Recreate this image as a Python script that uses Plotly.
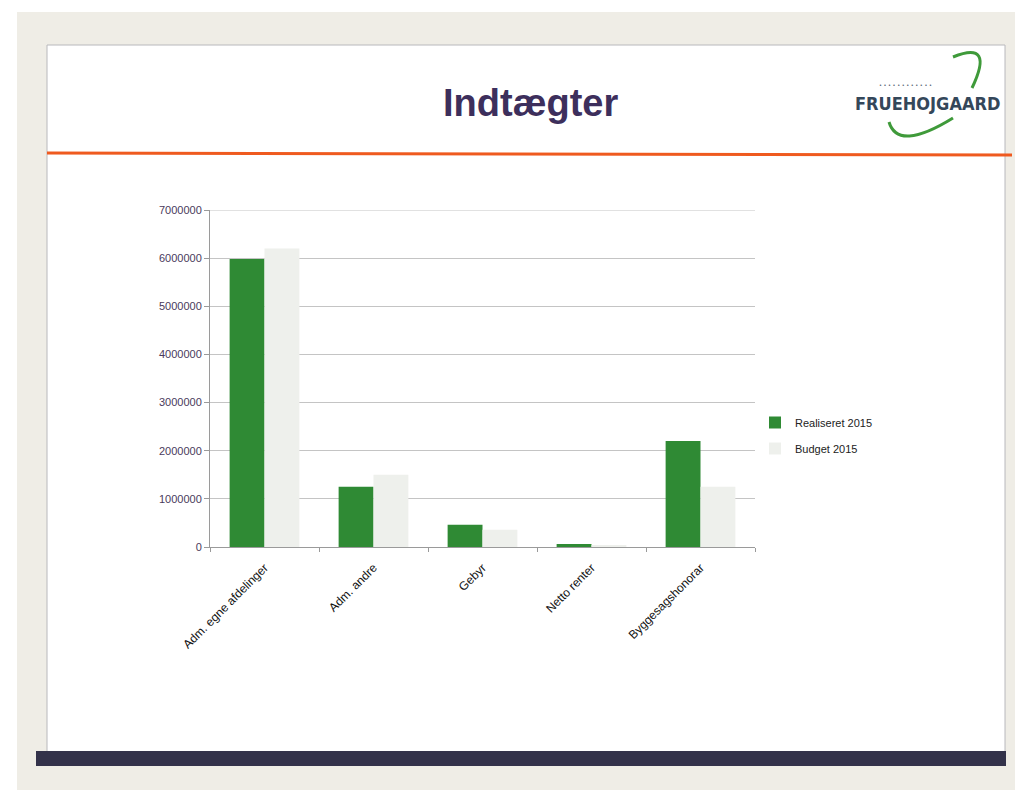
import plotly.graph_objects as go

categories = ["Adm. egne afdelinger", "Adm. andre", "Gebyr", "Netto renter", "Byggesagshonorar"]
realiseret_2015 = [5980000, 1250000, 460000, 60000, 2200000]
budget_2015 = [6200000, 1500000, 360000, 30000, 1250000]
y_ticks = [0, 1000000, 2000000, 3000000, 4000000, 5000000, 6000000, 7000000]

OFF = 8  # page body margin
W, H = 1029 - OFF, 793 - OFF
L, R, T, B = 210 - OFF, 755 - OFF, 210 - OFF, 547 - OFF


def px(x):
    return (x - OFF - L) / (R - L)


def py(y):
    return (B - (y - OFF)) / (B - T)


fig = go.Figure()
fig.add_trace(go.Bar(x=categories, y=realiseret_2015, name="Realiseret 2015", legendgroup="a",
                     marker=dict(color="#2f8a34", line=dict(width=0))))
fig.add_trace(go.Bar(x=categories, y=budget_2015, name="Budget 2015", legendgroup="b",
                     marker=dict(color="#eef0ec", line=dict(width=0))))

shapes = []
shapes.append(dict(type="rect", xref="paper", yref="paper", layer="below",
                   x0=px(17), x1=px(1015), y0=py(790), y1=py(12),
                   fillcolor="#efede6", line=dict(width=0)))
shapes.append(dict(type="rect", xref="paper", yref="paper", layer="below",
                   x0=px(47), x1=px(1005), y0=py(760), y1=py(45),
                   fillcolor="#ffffff", line=dict(color="#b8b8bc", width=1)))
shapes.append(dict(type="line", xref="paper", yref="paper",
                   x0=px(47), x1=px(1012), y0=py(153), y1=py(155),
                   line=dict(color="#ef5a1f", width=3)))
shapes.append(dict(type="rect", xref="paper", yref="paper",
                   x0=px(36), x1=px(1006), y0=py(766), y1=py(751),
                   fillcolor="#33324a", line=dict(width=0)))
# top gridline at 7000000
shapes.append(dict(type="line", xref="paper", yref="y", layer="below",
                   x0=0, x1=1, y0=y_ticks[-1], y1=y_ticks[-1],
                   line=dict(color="#c4c4c4", width=1)))


def P(x, y):
    return f"{px(x):.5f},{py(y):.5f}"


shapes.append(dict(type="path", xref="paper", yref="paper",
                   path=f"M {P(953,57)} Q {P(995,40)} {P(972,88)}",
                   line=dict(color="#3f9a3a", width=3)))
shapes.append(dict(type="path", xref="paper", yref="paper",
                   path=f"M {P(889,122)} Q {P(898,152)} {P(953,118)}",
                   line=dict(color="#3f9a3a", width=3)))

annotations = [
    dict(text="<b>Indtægter</b>", x=px(530), y=py(103), xref="paper", yref="paper",
         showarrow=False, font=dict(family="Liberation Sans, Arial", size=38, color="#3d2f5c"),
         xanchor="center", yanchor="middle"),
    dict(text="<b>FRUEHOJGAARD</b>", x=px(927), y=py(103), xref="paper", yref="paper",
         showarrow=False, font=dict(family="DejaVu Sans Condensed, DejaVu Sans", size=18, color="#34475a"),
         xanchor="center", yanchor="middle"),
    dict(text="• • • • • • • • • • • •", x=px(905), y=py(85), xref="paper", yref="paper",
         showarrow=False, font=dict(family="DejaVu Sans", size=5, color="#34475a"),
         xanchor="center", yanchor="middle"),
]

fig.update_layout(
    width=W, height=H,
    margin=dict(l=L, r=W - R, t=T, b=H - B, pad=0),
    paper_bgcolor="#ffffff", plot_bgcolor="rgba(0,0,0,0)",
    barmode="group", bargap=0.36, bargroupgap=0,
    showlegend=True,
    legend=dict(x=px(755), y=py(408), xanchor="left", yanchor="top",
                font=dict(family="Liberation Sans, Arial", size=11, color="#222222"),
                bgcolor="rgba(0,0,0,0)", itemwidth=30, tracegroupgap=7),
    shapes=shapes, annotations=annotations,
    font=dict(family="Liberation Sans, Arial"),
)
fig.update_yaxes(range=[0, 7000000], tickvals=y_ticks, ticktext=[str(v) for v in y_ticks],
                 showgrid=True, gridcolor="#c4c4c4", gridwidth=1,
                 showline=True, linecolor="#9a9a9a", ticks="outside", ticklen=5, tickcolor="#9a9a9a",
                 tickfont=dict(size=11, color="#4a3a5c"), zeroline=False)
fig.update_xaxes(showline=True, linecolor="#9a9a9a", ticks="outside", ticklen=4, tickcolor="#9a9a9a",
                 tickson="boundaries", tickangle=-45, ticklabelstandoff=8,
                 tickfont=dict(size=12, color="#111111"))

fig.write_html("out.html")
